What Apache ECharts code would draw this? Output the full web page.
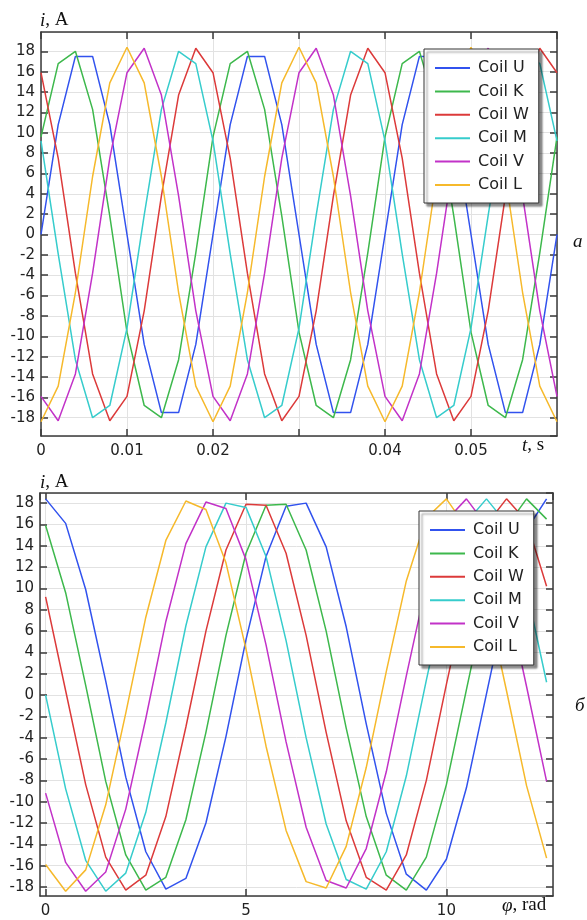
<!DOCTYPE html>
<html>
<head>
<meta charset="utf-8">
<script src="https://cdn.jsdelivr.net/npm/echarts@6.0.0/dist/echarts.min.js"></script>
<style>
  html, body { margin: 0; padding: 0; background: #fff; }
  #chart { width: 587px; height: 920px; }
</style>
</head>
<body>
<div id="chart"></div>
<script>
// а) current vs time
const tTime = [0, 0.002, 0.004, 0.006, 0.008, 0.01, 0.012, 0.014, 0.016, 0.018,
  0.02, 0.022, 0.024, 0.026, 0.028, 0.03, 0.032, 0.034, 0.036, 0.038,
  0.04, 0.042, 0.044, 0.046, 0.048, 0.05, 0.052, 0.054, 0.056, 0.058, 0.06];

const tCoilU = [0, 10.8, 17.5, 17.5, 10.8, 0, -10.8, -17.5, -17.5, -10.8,
  0, 10.8, 17.5, 17.5, 10.8, 0, -10.8, -17.5, -17.5, -10.8,
  0, 10.8, 17.5, 17.5, 10.8, 0, -10.8, -17.5, -17.5, -10.8, 0];
const tCoilK = [9.6, 16.8, 18.0, 12.3, 1.8, -9.6, -16.8, -18.0, -12.3, -1.8,
  9.6, 16.8, 18.0, 12.3, 1.8, -9.6, -16.8, -18.0, -12.3, -1.8,
  9.6, 16.8, 18.0, 12.3, 1.8, -9.6, -16.8, -18.0, -12.3, -1.8, 9.6];
const tCoilW = [15.9, 7.5, -3.8, -13.7, -18.3, -15.9, -7.5, 3.8, 13.7, 18.3,
  15.9, 7.5, -3.8, -13.7, -18.3, -15.9, -7.5, 3.8, 13.7, 18.3,
  15.9, 7.5, -3.8, -13.7, -18.3, -15.9, -7.5, 3.8, 13.7, 18.3, 15.9];
const tCoilM = [9.2, -1.9, -12.3, -18.0, -16.8, -9.2, 1.9, 12.3, 18.0, 16.8,
  9.2, -1.9, -12.3, -18.0, -16.8, -9.2, 1.9, 12.3, 18.0, 16.8,
  9.2, -1.9, -12.3, -18.0, -16.8, -9.2, 1.9, 12.3, 18.0, 16.8, 9.2];
const tCoilV = [-15.9, -18.3, -13.7, -3.8, 7.5, 15.9, 18.3, 13.7, 3.8, -7.5,
  -15.9, -18.3, -13.7, -3.8, 7.5, 15.9, 18.3, 13.7, 3.8, -7.5,
  -15.9, -18.3, -13.7, -3.8, 7.5, 15.9, 18.3, 13.7, 3.8, -7.5, -15.9];
const tCoilL = [-18.4, -14.9, -5.7, 5.7, 14.9, 18.4, 14.9, 5.7, -5.7, -14.9,
  -18.4, -14.9, -5.7, 5.7, 14.9, 18.4, 14.9, 5.7, -5.7, -14.9,
  -18.4, -14.9, -5.7, 5.7, 14.9, 18.4, 14.9, 5.7, -5.7, -14.9, -18.4];

// б) current vs rotor angle
const phiRad = [0, 0.5, 1, 1.5, 2, 2.5, 3, 3.5, 4, 4.5, 5, 5.5, 6, 6.5,
  7, 7.5, 8, 8.5, 9, 9.5, 10, 10.5, 11, 11.5, 12, 12.5];

const pCoilU = [18.4, 16.1, 9.9, 1.3, -7.7, -14.7, -18.2, -17.2, -12.0, -3.9, 5.2, 13.0, 17.7,
  18.0, 13.9, 6.4, -2.7, -11.1, -16.8, -18.3, -15.4, -8.7, 0.1, 8.9, 15.5, 18.4];
const pCoilK = [15.9, 9.6, 0.9, -8.1, -15.0, -18.3, -17.1, -11.7, -3.5, 5.6, 13.3, 17.8, 17.9,
  13.6, 6.0, -3.1, -11.4, -16.9, -18.3, -15.2, -8.4, 0.5, 9.3, 15.8, 18.4, 16.5];
const pCoilW = [9.2, 0.4, -8.4, -15.2, -18.3, -16.9, -11.4, -3.0, 6.0, 13.6, 17.9, 17.8, 13.3,
  5.6, -3.5, -11.8, -17.1, -18.3, -15.0, -8.0, 1.0, 9.6, 16.0, 18.4, 16.3, 10.2];
const pCoilM = [0, -8.8, -15.5, -18.4, -16.7, -11.0, -2.6, 6.5, 13.9, 18.0, 17.6, 13.0, 5.1,
  -4.0, -12.1, -17.3, -18.2, -14.7, -7.6, 1.4, 10.0, 16.2, 18.4, 16.1, 9.9, 1.2];
const pCoilV = [-9.2, -15.7, -18.4, -16.6, -10.7, -2.2, 6.9, 14.2, 18.1, 17.5, 12.7, 4.7, -4.4,
  -12.4, -17.4, -18.1, -14.4, -7.2, 1.8, 10.4, 16.4, 18.4, 15.9, 9.5, 0.8, -8.1];
const pCoilL = [-15.9, -18.4, -16.4, -10.3, -1.7, 7.3, 14.5, 18.2, 17.4, 12.4, 4.3, -4.8, -12.7,
  -17.5, -18.1, -14.2, -6.8, 2.2, 10.7, 16.6, 18.4, 15.7, 9.1, 0.4, -8.5, -15.3];

const coilNames = ['Coil U', 'Coil K', 'Coil W', 'Coil M', 'Coil V', 'Coil L'];
const coilColors = ['#3152ee', '#3db84c', '#dc3a3a', '#36cccc', '#c232c8', '#f6b92b'];

const labelFont = { fontFamily: 'DejaVu Sans', fontSize: 15, color: '#222' };
const frameColor = '#3a3a3a';

let myChart = echarts.init(document.getElementById('chart'), null, { renderer: 'canvas' });

// one axis of the frame; labels only on bottom / left
function makeAxis(gridIndex, pos, min, max, splitNumber, withLabels, showMin, hideLabels) {
  return {
    type: 'value',
    gridIndex: gridIndex,
    position: pos,
    min: min,
    max: max,
    splitNumber: splitNumber,
    axisLine: { show: true, onZero: false, lineStyle: { color: frameColor, width: 1.5 } },
    axisTick: { show: true, inside: true, length: 7, lineStyle: { color: frameColor, width: 1.5 } },
    axisLabel: {
      show: withLabels,
      showMinLabel: !!showMin,
      showMaxLabel: false,
      margin: pos === 'left' ? 6 : 8,
      ...labelFont,
      formatter: function (v) {
        if (hideLabels && hideLabels.indexOf(+v.toFixed(4)) >= 0) return '';
        return String(+v.toFixed(4));
      },
    },
    splitLine: { show: withLabels, lineStyle: { color: '#e2e2e2', width: 1 } },
  };
}

function makeSeries(xs, ys, idx, axisIdx) {
  return {
    name: coilNames[idx],
    type: 'line',
    xAxisIndex: axisIdx,
    yAxisIndex: axisIdx,
    symbol: 'none',
    lineStyle: { width: 1.5, color: coilColors[idx] },
    itemStyle: { color: coilColors[idx] },
    data: xs.map((x, i) => [x, ys[i]]),
  };
}

function makeLegend(left, top) {
  return {
    data: coilNames,
    orient: 'vertical',
    left: left,
    top: top,
    icon: 'rect',
    itemWidth: 35,
    itemHeight: 2,
    itemGap: 7.4,
    padding: [11, 10, 10, 11],
    backgroundColor: '#fff',
    borderColor: '#333',
    borderWidth: 1,
    shadowColor: 'rgba(0,0,0,0.45)',
    shadowBlur: 2,
    shadowOffsetX: 3,
    shadowOffsetY: 3,
    textStyle: {
      fontFamily: 'DejaVu Sans', fontSize: 16, color: '#222',
      lineHeight: 14, padding: [0, 0, 0, 3],
    },
    selectedMode: false,
  };
}

const serifText = { fontFamily: 'Liberation Serif', fontSize: 19, fill: '#111' };

function makeText(x, y, text) {
  return {
    type: 'text',
    left: x,
    top: y,
    style: {
      text: text,
      x: 0,
      y: 0,
      ...serifText,
      rich: { it: { fontStyle: 'italic', fontFamily: 'Liberation Serif', fontSize: 19 } },
    },
  };
}

let option = {
  animation: false,
  backgroundColor: '#fff',
  grid: [
    { left: 41, top: 32, width: 516, height: 404 },
    { left: 40, top: 493, width: 513, height: 403 },
  ],
  xAxis: [
    makeAxis(0, 'bottom', 0, 0.06, 6, true, true, [0.03]),
    makeAxis(0, 'top', 0, 0.06, 6, false),
    makeAxis(1, 'bottom', -0.14, 12.66, 3, true),
    makeAxis(1, 'top', -0.14, 12.66, 3, false),
  ],
  yAxis: [
    makeAxis(0, 'left', -19.8, 19.9, 20, true),
    makeAxis(0, 'right', -19.8, 19.9, 20, false),
    makeAxis(1, 'left', -18.85, 18.95, 20, true),
    makeAxis(1, 'right', -18.85, 18.95, 20, false),
  ],
  legend: [makeLegend(424, 49), makeLegend(419, 511)],
  graphic: {
    elements: [
      makeText(40, 11, '{it|i}, A'),
      makeText(522, 436, '{it|t}, s'),
      makeText(573, 232, '{it|а}'),
      makeText(40, 473, '{it|i}, A'),
      makeText(502, 896, '{it|φ}, rad'),
      makeText(575, 696, '{it|б}'),
    ],
  },
  series: [
    makeSeries(tTime, tCoilU, 0, 0),
    makeSeries(tTime, tCoilK, 1, 0),
    makeSeries(tTime, tCoilW, 2, 0),
    makeSeries(tTime, tCoilM, 3, 0),
    makeSeries(tTime, tCoilV, 4, 0),
    makeSeries(tTime, tCoilL, 5, 0),
    makeSeries(phiRad, pCoilU, 0, 2),
    makeSeries(phiRad, pCoilK, 1, 2),
    makeSeries(phiRad, pCoilW, 2, 2),
    makeSeries(phiRad, pCoilM, 3, 2),
    makeSeries(phiRad, pCoilV, 4, 2),
    makeSeries(phiRad, pCoilL, 5, 2),
  ],
};

myChart.setOption(option);
</script>
</body>
</html>
